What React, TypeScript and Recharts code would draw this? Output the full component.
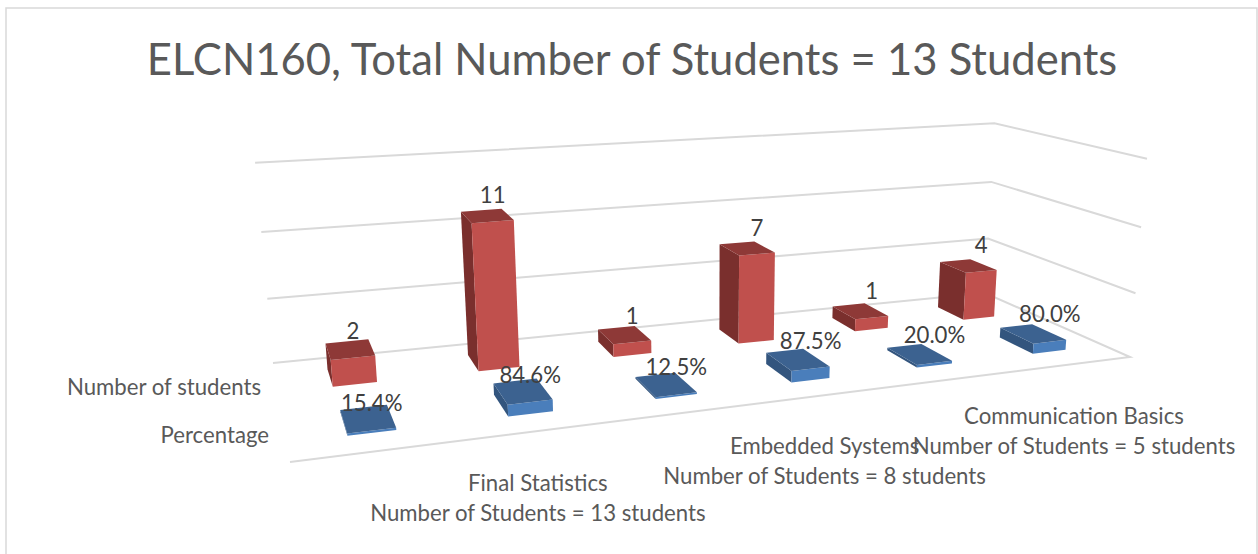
import React from "react";
import { BarChart, Bar, XAxis, YAxis, CartesianGrid } from "recharts";

const titleText = "ELCN160, Total Number of Students = 13 Students";
const categories = ["A1", "A2", "B1", "B2", "C1", "C2"];
const numberOfStudents = [2, 11, 1, 7, 1, 4];
const percentage = [0.154, 0.846, 0.125, 0.875, 0.2, 0.8];
const groupNames = ["Final Statistics", "Embedded Systems", "Communication Basics"];
const groupCounts = ["Number of Students = 13 students", "Number of Students = 8 students", "Number of Students = 5 students"];
const seriesNames = ["Number of students", "Percentage"];
const valueTicks = [0, 5, 10, 15];

const W = 1258, H = 554;
const M = { left: 100, right: 100, top: 100, bottom: 70 };
const AXIS_H = 30;
const PW = W - M.left - M.right, PH = H - M.top - M.bottom - AXIS_H;
const FONT = "Lato, 'Open Sans', sans-serif";
const LABEL_SIZE = 22.2;
const groupDx = [76, 62, 57];
const groupDy = [50, 51, 53];

type P = [number, number];
function homography(p00: P, p10: P, p11: P, p01: P) {
  const [x0, y0] = p00, [x1, y1] = p10, [x2, y2] = p11, [x3, y3] = p01;
  const dx1 = x1 - x2, dx2 = x3 - x2, sx = x0 - x1 + x2 - x3;
  const dy1 = y1 - y2, dy2 = y3 - y2, sy = y0 - y1 + y2 - y3;
  const den = dx1 * dy2 - dx2 * dy1;
  const g = (sx * dy2 - dx2 * sy) / den, h = (dx1 * sy - sx * dy1) / den;
  const a = x1 - x0 + g * x1, b = x3 - x0 + h * x3, c = x0;
  const d = y1 - y0 + g * y1, e = y3 - y0 + h * y3, f = y0;
  return (u: number, v: number): P => {
    const w = g * u + h * v + 1;
    return [(a * u + b * v + c) / w, (d * u + e * v + f) / w];
  };
}
const floor = homography([290, 462], [1130, 357], [985, 293], [273, 363]);
const VP: P = [710, 5250];
const heightAt = (u: number, v: number) => {
  const front = 234 + (199 - 234) * u, back = 201 + (170 - 201) * u;
  return front + (back - front) * v;
};
// u: along categories, v: depth (0 front, 1 back), t: fraction of the value axis
const project = (u: number, v: number, t: number): P => {
  const s = t - 0.055 * t * (1 - t);
  const [fx, fy] = floor(u, v);
  const dx = fx - VP[0], dy = fy - VP[1];
  const len = Math.hypot(dx, dy);
  const hh = heightAt(u, v) * s;
  return [fx + (dx / len) * hh, fy + (dy / len) * hh];
};
const pts = (l: P[]) => l.map((p) => `${p[0].toFixed(1)},${p[1].toFixed(1)}`).join(" ");

const makeBox = (depth: [number, number], isRed: boolean, labelDy: number, c: { front: string; top: string; side: string }, fmt: (v: number) => string) =>
  (props: any) => {
    const { x, width, height, value, index } = props;
    const centre = isRed ? x + width : x;
    const u0 = (centre - width - M.left) / PW, u1 = (centre + width - M.left) / PW;
    const t = height / PH;
    const [v0, v1] = depth;
    const fbl = project(u0, v0, 0), fbr = project(u1, v0, 0), bbl = project(u0, v1, 0);
    const ftl = project(u0, v0, t), ftr = project(u1, v0, t), btl = project(u0, v1, t), btr = project(u1, v1, t);
    const lx = (ftl[0] + ftr[0]) / 2, ly = (ftl[1] + ftr[1]) / 2 + labelDy;
    const v = Array.isArray(value) ? value[1] : value;
    return (
      <g key={index}>
        <polygon points={pts([bbl, fbl, ftl, btl])} fill={c.side} />
        <polygon points={pts([fbl, fbr, ftr, ftl])} fill={c.front} />
        <polygon points={pts([ftl, ftr, btr, btl])} fill={c.top} />
        <text x={lx} y={ly} textAnchor="middle" fontFamily={FONT} fontSize={LABEL_SIZE} fill="#404040">{fmt(v)}</text>
      </g>
    );
  };

const RedBox = makeBox([0.655, 0.86], true, -18.5, { front: "#C0504D", top: "#8E3937", side: "#7A2F2D" }, (v) => String(v));
const BlueBox = makeBox([0.16, 0.385], false, -19.5, { front: "#4A7EBB", top: "#3C6290", side: "#33557E" }, (v) => (v * 100).toFixed(1) + "%");

const gridLine = (props: any) => {
  const t = (M.top + PH - props.y1) / PH;
  const line = t < 0.001
    ? [project(0, 0, t), project(1, 0, t), project(1, 1, t), project(0, 1, t)]
    : [project(1, 0, t), project(1, 1, t), project(0, 1, t)];
  return <polyline key={props.key ?? props.index} points={pts(line)} fill="none" stroke="#D9D9D9" strokeWidth={2} />;
};

const GroupTick = (props: any) => {
  const { x, index } = props;
  if (index % 2 !== 0) return <g />;
  const u = (x - M.left) / PW + 1 / 12;
  const [fx, fy] = project(u, 0, 0);
  const g = index / 2;
  return (
    <g fontFamily={FONT} fontSize={LABEL_SIZE} fill="#595959" textAnchor="middle">
      <text x={fx + groupDx[g]} y={fy + groupDy[g]}>{groupNames[g]}</text>
      <text x={fx + groupDx[g]} y={fy + groupDy[g] + 30}>{groupCounts[g]}</text>
    </g>
  );
};

const data = categories.map((category, i) => ({ category, number: numberOfStudents[i], percent: percentage[i] }));

export default function App() {
  return (
    <div style={{ position: "absolute", left: 0, top: 0, width: W, height: H, background: "#fff" }}>
      <BarChart width={W} height={H} data={data} margin={M} barGap={0} barCategoryGap="35.5%">
        <rect x={6} y={8} width={1251} height={560} fill="none" stroke="#D9D9D9" strokeWidth={1.5} />
        <text x={632} y={75} textAnchor="middle" fontFamily={FONT} fontSize={43.6} fill="#595959">{titleText}</text>
        <text x={261} y={395} textAnchor="end" fontFamily={FONT} fontSize={LABEL_SIZE} fill="#595959">{seriesNames[0]}</text>
        <text x={269} y={443} textAnchor="end" fontFamily={FONT} fontSize={LABEL_SIZE} fill="#595959">{seriesNames[1]}</text>
        <CartesianGrid horizontal={gridLine} vertical={false} />
        <XAxis dataKey="category" interval={0} axisLine={false} tickLine={false} tick={GroupTick} height={AXIS_H} />
        <YAxis hide domain={[0, 15]} ticks={valueTicks} />
        <Bar dataKey="number" fill="#C0504D" isAnimationActive={false} shape={RedBox} />
        <Bar dataKey="percent" fill="#4A7EBB" isAnimationActive={false} shape={BlueBox} />
      </BarChart>
    </div>
  );
}
